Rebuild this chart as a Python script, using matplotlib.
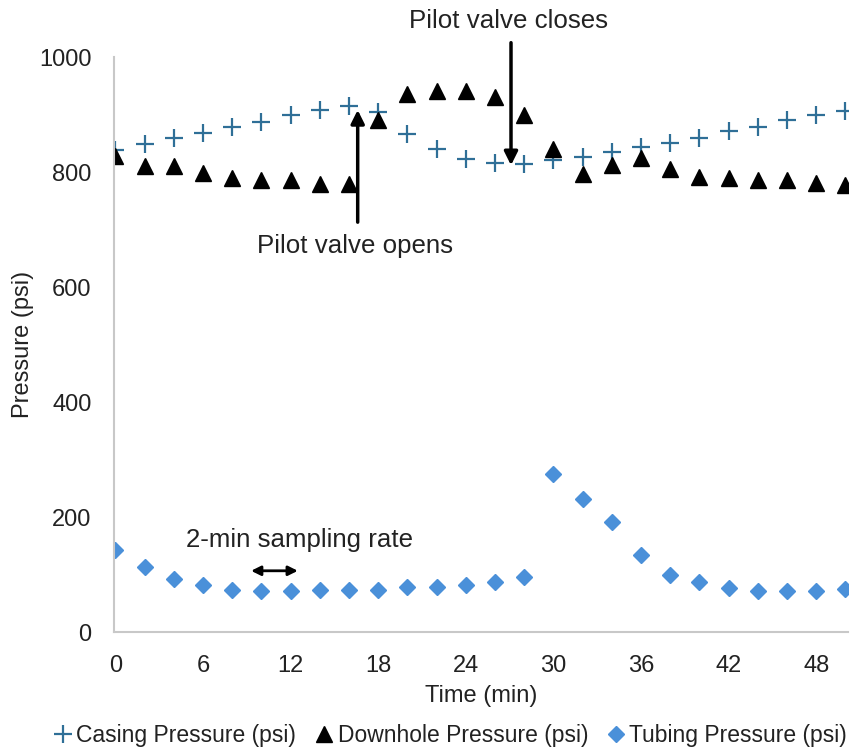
import matplotlib
matplotlib.use("Agg")
import matplotlib.pyplot as plt

plt.rcParams['font.family'] = ['Liberation Sans', 'DejaVu Sans']

time_min = [0, 2, 4, 6, 8, 10, 12, 14, 16, 18, 20, 22, 24, 26, 28, 30, 32, 34, 36, 38, 40, 42, 44, 46, 48, 50]
casing = [839, 849, 860, 868, 879, 888, 899, 908, 915, 904, 866, 840, 823, 816, 815, 821, 827, 835, 844, 851, 860, 871, 879, 890, 899, 907]
downhole = [828, 810, 810, 798, 789, 787, 787, 780, 780, 890, 936, 941, 941, 930, 899, 841, 797, 812, 824, 806, 792, 790, 786, 786, 781, 777]
tubing = [143, 114, 92, 83, 74, 72, 72, 74, 74, 74, 79, 79, 83, 88, 97, 276, 231, 192, 134, 99, 88, 77, 72, 72, 72, 75]

x_ticks = [0, 6, 12, 18, 24, 30, 36, 42, 48]
y_ticks = [0, 200, 400, 600, 800, 1000]

fig = plt.figure(figsize=(8.56, 7.51), dpi=100)
ax = fig.add_axes([0.133, 0.158, 0.858, 0.766])

ax.plot(time_min, casing, linestyle='none', marker='+', ms=13, mew=1.6,
        color='#2f6f97', label='Casing Pressure (psi)')
ax.plot(time_min, downhole, linestyle='none', marker='^', ms=11,
        color='black', label='Downhole Pressure (psi)')
ax.plot(time_min, tubing, linestyle='none', marker='D', ms=8,
        color='#4a90d9', label='Tubing Pressure (psi)')

ax.set_xlim(-0.1, 50.2)
ax.set_ylim(0, 1000)
ax.set_xticks(x_ticks)
ax.set_yticks(y_ticks)
ax.tick_params(length=0, labelsize=17, pad=16, colors='#222222')
ax.tick_params(axis='x', pad=16)
for s in ['top', 'right']:
    ax.spines[s].set_visible(False)
for s in ['left', 'bottom']:
    ax.spines[s].set_color('#c8c8c8')
    ax.spines[s].set_linewidth(1.5)

ax.set_xlabel('Time (min)', fontsize=17, labelpad=6, color='#222222')
ax.set_ylabel('Pressure (psi)', fontsize=17, labelpad=4, color='#222222')

arrow = dict(arrowstyle='-|>', lw=2.5, color='black', mutation_scale=20, shrinkA=0, shrinkB=0)
ax.annotate('', xy=(16.6, 908), xytext=(16.6, 713), arrowprops=arrow, annotation_clip=False)
ax.text(16.4, 671, 'Pilot valve opens', fontsize=18.6, ha='center', va='center', color='#222222')
ax.annotate('', xy=(27.1, 812), xytext=(27.1, 1025), arrowprops=arrow, annotation_clip=False)
ax.text(26.9, 1063, 'Pilot valve closes', fontsize=18.6, ha='center', va='center', color='#222222', clip_on=False)

arrow2 = dict(arrowstyle='<|-|>', lw=2, color='black', mutation_scale=14, shrinkA=0, shrinkB=0)
ax.annotate('', xy=(12.5, 107), xytext=(9.3, 107), arrowprops=arrow2)
ax.text(12.6, 160, '2-min sampling rate', fontsize=18.6, ha='center', va='center', color='#222222')

ax.legend(loc='lower center', bbox_to_anchor=(0.455, -0.235), ncol=3, frameon=False,
          fontsize=16.5, handletextpad=0.0, columnspacing=0.6, handlelength=1.2,
          labelcolor='#222222')

fig.savefig('out.png', dpi=100)
